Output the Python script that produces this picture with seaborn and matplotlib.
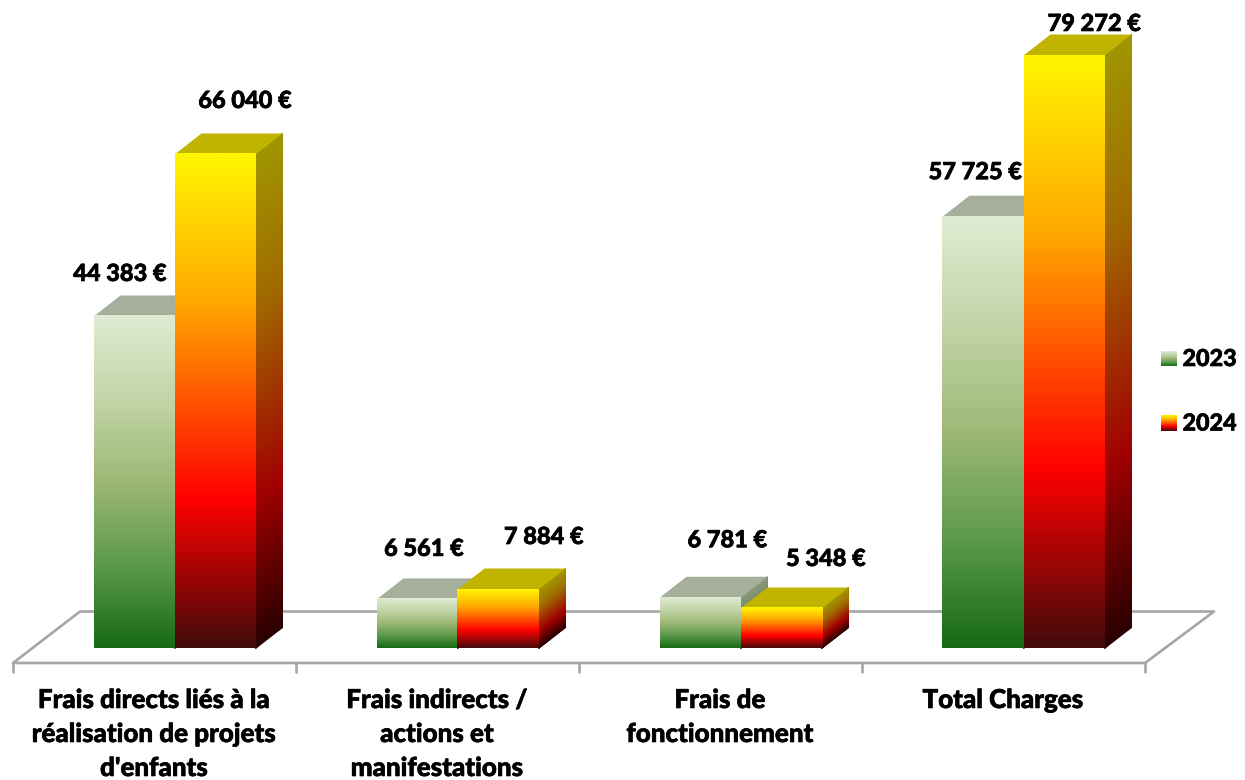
import numpy as np
import pandas as pd
import matplotlib
matplotlib.use("Agg")
import matplotlib.pyplot as plt
import matplotlib.patheffects as pe
import seaborn as sns
from matplotlib.colors import LinearSegmentedColormap
from matplotlib.patches import Polygon

# =====================================================
# DATA
# =====================================================

categories = [
    "Frais directs liés à la\nréalisation de projets\nd'enfants",
    "Frais indirects /\nactions et\nmanifestations",
    "Frais de\nfonctionnement",
    "Total Charges",
]
years = ["2023", "2024"]
values_2023 = [44383, 6561, 6781, 57725]
values_2024 = [66040, 7884, 5348, 79272]

# label offset from the centre of the front face / bar top, in pixels
label_dx = [-14, 30, 7, 46, 27.5, 45, -7.5, 30.5]
label_dy = [43, 54, 51, 53, 58, 50, 45, 32]

df = pd.DataFrame({
    "position": list(range(len(categories))) * 2,
    "year": [years[0]] * 4 + [years[1]] * 4,
    "value": values_2023 + values_2024,
})

# =====================================================
# COLOURS
# =====================================================

front_maps = {
    "2023": LinearSegmentedColormap.from_list("g", [
        (0, "#DFECD3"), (0.25, "#C2D5A8"), (0.5, "#9DB876"), (0.75, "#5C9A4A"), (1, "#166A12")]),
    "2024": LinearSegmentedColormap.from_list("r", [
        (0, "#FFF500"), (0.3, "#FFA800"), (0.7, "#FF0000"), (1, "#420A0A")]),
}
side_maps = {
    "2023": LinearSegmentedColormap.from_list("gs", [
        (0, "#8A9A7E"), (0.5, "#66804A"), (1, "#0C3C0A")]),
    "2024": LinearSegmentedColormap.from_list("rs", [
        (0, "#A09600"), (0.3, "#A06A00"), (0.7, "#A00000"), (1, "#2A0000")]),
}
top_colors = {"2023": "#A6AF9B", "2024": "#C1B400"}

FLOOR = "#A6A6A6"

# =====================================================
# FIGURE AND SCALES
# =====================================================

W, H = 1245, 780
BASE_PX = 648.5       # pixel row of value 0
FIRST_PX = 174.5      # pixel column of the first category
CAT_PX = 283          # pixels per category
PX_PER_UNIT = 593 / 79272
DEPTH_X, DEPTH_Y = 27, 21

def X(px):
    return (px - FIRST_PX) / CAT_PX

def Y(py):
    return (BASE_PX - py) / PX_PER_UNIT

sns.set_theme(style="white")
plt.rcParams["font.family"] = ["Lato", "DejaVu Sans"]

# thickens the Lato glyphs a little towards the reference's bold
heavier = [pe.withStroke(linewidth=0.45, foreground="black")]

fig = plt.figure(figsize=(W / 100, H / 100), dpi=100)
ax = fig.add_axes([0, 0, 1, 1])

sns.barplot(
    data=df, x="position", y="value", hue="year",
    hue_order=years, native_scale=True,
    palette=["#9DB876", "#FF0000"],
    width=162 / CAT_PX, gap=0, dodge=True,
    legend=False, ax=ax,
)

dx = DEPTH_X / CAT_PX
dy = DEPTH_Y / PX_PER_UNIT

# =====================================================
# FLOOR
# =====================================================

def floor_line(xs, ys):
    ax.plot([X(p) for p in xs], [Y(p) for p in ys],
            color=FLOOR, lw=1.9, zorder=1, solid_capstyle="round")

floor_line([13, 80, 1214, 1145, 13], [663, 611.5, 611.5, 663, 663])
for i in range(len(categories) + 1):
    floor_line([13 + i * CAT_PX] * 2, [663, 672])

# =====================================================
# 3D FACES ON TOP OF THE SEABORN BARS
# =====================================================

gradient = np.linspace(0, 1, 256).reshape(-1, 1)
z = 2
cols = list(zip(ax.containers[0], ax.containers[1]))
for pair in cols:
    for year, bar in zip(years, pair):
        x0, w, h = bar.get_x(), bar.get_width(), bar.get_height()
        bar.set_visible(False)

        # side face, sheared
        u = np.array([0.0, 1.0])
        v = np.linspace(0, 1, 120)
        U, V = np.meshgrid(u, v)
        sx = x0 + w + U * dx
        sy = V * h + U * dy
        ax.pcolormesh(sx, sy, 1 - V, cmap=side_maps[year], vmin=0, vmax=1,
                      shading="gouraud", zorder=z)
        z += 1

        # top face
        ax.add_patch(Polygon(
            [(x0, h), (x0 + w, h), (x0 + w + dx, h + dy), (x0 + dx, h + dy)],
            facecolor=top_colors[year], edgecolor="none", zorder=z))
        z += 1

        # front face
        ax.imshow(gradient, cmap=front_maps[year], vmin=0, vmax=1,
                  extent=[x0, x0 + w, 0, h], origin="upper",
                  aspect="auto", interpolation="bilinear", zorder=z)
        z += 1

# =====================================================
# VALUE LABELS
# =====================================================

k = 0
for pair in cols:
    for bar in pair:
        value = int(round(bar.get_height()))
        text = f"{value:,}".replace(",", " ") + " €"
        ax.annotate(
            text,
            (bar.get_x() + bar.get_width() / 2, bar.get_height()),
            xytext=(label_dx[k], label_dy[k]), textcoords="offset pixels",
            ha="center", va="center", fontsize=17, fontweight=900,
            color="black", zorder=100, path_effects=heavier,
        )
        k += 1

# =====================================================
# CATEGORY LABELS
# =====================================================

for i, name in enumerate(categories):
    ax.text(
        i - 20.5 / CAT_PX, Y(688), name,
        ha="center", va="top", fontsize=18.7, fontweight=900,
        linespacing=1.5, color="black", zorder=100, path_effects=heavier,
    )

# =====================================================
# LEGEND
# =====================================================

for year, top, bottom in zip(years, [351, 415], [366, 431]):
    ax.imshow(gradient, cmap=front_maps[year], vmin=0, vmax=1,
              extent=[X(1161), X(1177), Y(bottom), Y(top)], origin="upper",
              aspect="auto", interpolation="bilinear", zorder=50)
    ax.text(X(1182.5), Y((top + bottom) / 2 + 1), year,
            ha="left", va="center", fontsize=16.8, fontweight=900,
            color="black", zorder=100, path_effects=heavier)

ax.set_xlim(X(0), X(W))
ax.set_ylim(Y(H), Y(0))
ax.axis("off")

fig.savefig("out.png", dpi=100)
